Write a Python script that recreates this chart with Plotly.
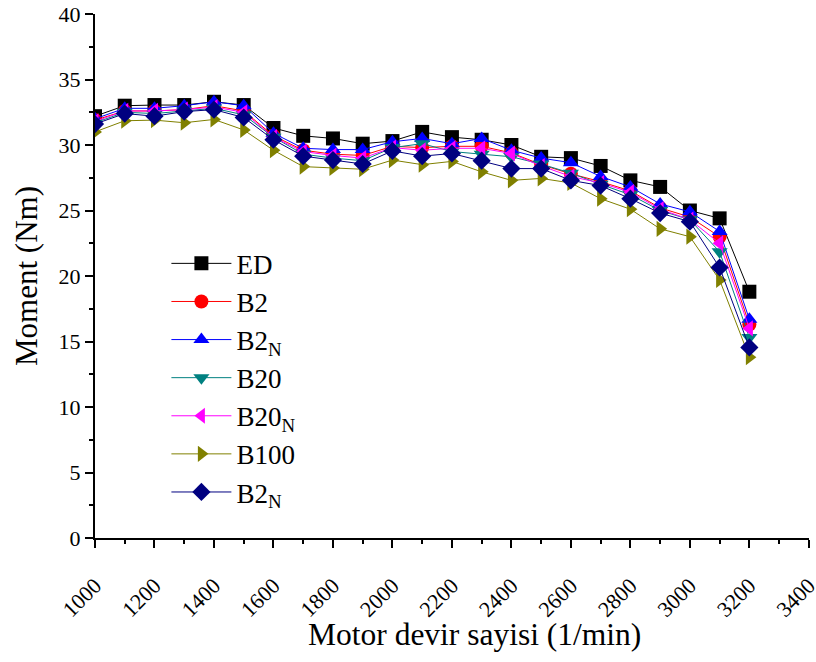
import plotly.graph_objects as go

# Engine speed (1/min)
rpm = [1000, 1100, 1200, 1300, 1400, 1500, 1600, 1700, 1800, 1900, 2000, 2100,
       2200, 2300, 2400, 2500, 2600, 2700, 2800, 2900, 3000, 3100, 3200]

# Torque (Nm) for each fuel
ed = [32.2, 33.0, 33.05, 33.05, 33.3, 33.05, 31.3, 30.7, 30.5, 30.1, 30.3, 31.0,
      30.6, 30.4, 30.0, 29.1, 29.0, 28.4, 27.3, 26.8, 25.0, 24.4, 18.8]
b2 = [31.9, 32.6, 32.6, 32.7, 33.0, 32.6, 30.7, 29.6, 29.3, 29.2, 29.9, 29.8,
      29.9, 29.9, 29.4, 28.5, 27.8, 27.2, 26.5, 25.2, 24.5, 23.0, 16.3]
b2n = [32.0, 32.8, 32.8, 33.0, 33.3, 33.0, 30.9, 29.75, 29.65, 29.65, 30.25, 30.5,
       30.1, 30.5, 29.6, 29.0, 28.65, 27.6, 26.8, 25.5, 24.9, 23.4, 16.7]
b20 = [31.7, 32.5, 32.4, 32.6, 32.8, 32.3, 30.6, 29.3, 29.0, 28.8, 29.8, 30.1,
       29.5, 29.3, 29.1, 28.55, 27.85, 27.0, 26.2, 25.0, 24.3, 21.85, 15.3]
b20n = [31.8, 32.6, 32.6, 32.7, 32.9, 32.5, 30.6, 29.5, 29.2, 29.0, 29.8, 29.6,
        29.75, 29.75, 29.35, 28.4, 27.6, 27.1, 26.4, 25.1, 24.3, 22.5, 16.0]
b100 = [31.0, 31.85, 31.9, 31.7, 31.95, 31.15, 29.6, 28.35, 28.25, 28.15, 28.85, 28.5,
        28.75, 27.95, 27.3, 27.45, 27.1, 25.9, 25.1, 23.6, 23.0, 19.7, 13.8]
b2n_2 = [31.6, 32.4, 32.2, 32.55, 32.7, 32.1, 30.4, 29.15, 28.85, 28.55, 29.55, 29.15,
         29.35, 28.8, 28.2, 28.2, 27.3, 26.9, 25.9, 24.8, 24.15, 20.65, 14.55]

# Axis ticks
x_ticks = [1000, 1200, 1400, 1600, 1800, 2000, 2200, 2400, 2600, 2800, 3000, 3200, 3400]
y_ticks = [0, 5, 10, 15, 20, 25, 30, 35, 40]

series = [
    ("ED", ed, "#000000", "square"),
    ("B2", b2, "#ff0000", "circle"),
    ("B2<sub>N</sub>", b2n, "#0000ff", "triangle-up"),
    ("B20", b20, "#008080", "triangle-down"),
    ("B20<sub>N</sub>", b20n, "#ff00ff", "triangle-left"),
    ("B100", b100, "#808000", "triangle-right"),
    ("B2<sub>N</sub>", b2n_2, "#000080", "diamond"),
]

font_family = "Liberation Serif"

fig = go.Figure()
for name, vals, color, sym in series:
    fig.add_trace(go.Scatter(
        x=rpm, y=vals, name=name, mode="lines+markers",
        line=dict(color=color, width=1),
        marker=dict(symbol=sym, size=14, color=color, line=dict(width=0)),
    ))

axis_common = dict(
    showline=True, linecolor="black", linewidth=2,
    ticks="outside", ticklen=8, tickwidth=2, tickcolor="black",
    showgrid=False, zeroline=False, mirror=False, automargin=False,
    tickfont=dict(family=font_family, size=22, color="black"),
)

fig.update_xaxes(
    range=[1000, 3400.5], tickmode="array", tickvals=x_ticks,
    ticktext=[str(v) for v in x_ticks], tickangle=-45,
    ticklabeloverflow="allow", ticklabelstandoff=16,
    minor=dict(dtick=100, tick0=1000, ticks="outside", ticklen=4, tickwidth=2,
               tickcolor="black"),
    **axis_common,
)
fig.update_yaxes(
    range=[0, 40], tickmode="array", tickvals=y_ticks,
    title=dict(text="Moment (Nm)",
               font=dict(family=font_family, size=31, color="black"), standoff=12),
    minor=dict(dtick=2.5, tick0=0, ticks="outside", ticklen=4, tickwidth=2,
               tickcolor="black"),
    **axis_common,
)

# x-axis title, set slightly right of the plot centre
fig.add_annotation(
    text="Motor devir sayisi (1/min)", xref="paper", yref="paper",
    x=0.531, y=-0.185, xanchor="center", yanchor="middle", showarrow=False,
    font=dict(family=font_family, size=31.5, color="black"),
)

fig.update_layout(
    width=816, height=662,
    margin=dict(l=95, r=7, t=14, b=124),
    plot_bgcolor="white", paper_bgcolor="white",
    font=dict(family=font_family, color="black"),
    legend=dict(
        x=0.1, y=0.57, xanchor="left", yanchor="top",
        bgcolor="rgba(0,0,0,0)", borderwidth=0,
        font=dict(family=font_family, size=27, color="black"),
        itemwidth=60, tracegroupgap=0,
    ),
)

fig.write_html("out.html")
